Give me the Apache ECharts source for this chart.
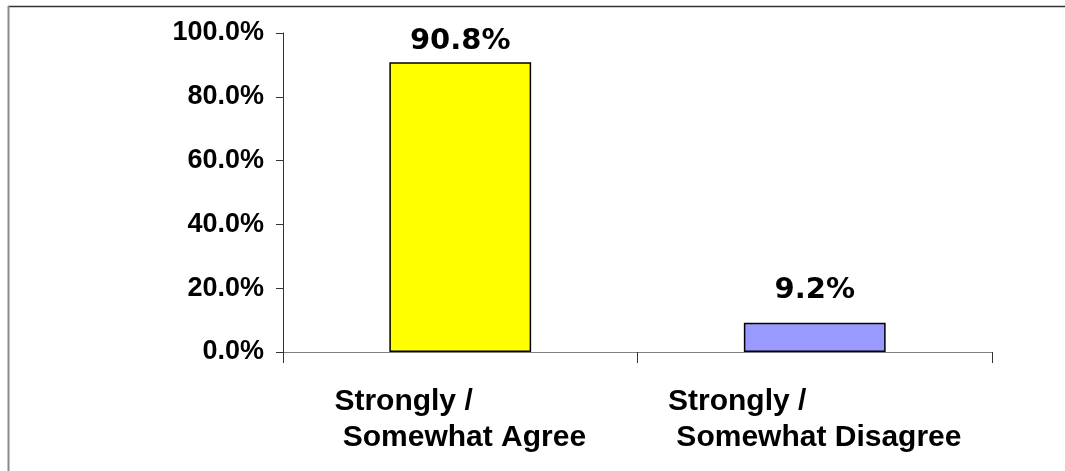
<!DOCTYPE html>
<html>
<head>
<meta charset="utf-8">
<script src="https://cdn.jsdelivr.net/npm/echarts@6/dist/echarts.min.js"></script>
<style>
  html, body { margin: 0; padding: 0; background: #fff; }
  #chart { width: 1065px; height: 471px; }
</style>
</head>
<body>
<div id="chart"></div>
<script>
// Survey response shares
const categories = ['Strongly /\n Somewhat Agree', 'Strongly /\n Somewhat Disagree'];
const shares = [90.8, 9.2];
const barColors = ['#FFFF00', '#9999FF'];
const labelGaps = [6, 18];
const yTicks = [0, 20, 40, 60, 80, 100];

const FONT = '"Liberation Sans", Arial, sans-serif';
const VALUE_FONT = '"DejaVu Sans", "Liberation Sans", Arial, sans-serif';

const chart = echarts.init(document.getElementById('chart'), null, { renderer: 'canvas' });

chart.setOption({
  backgroundColor: '#ffffff',
  animation: false,
  graphic: [
    { type: 'line', shape: { x1: 8, y1: 6.5, x2: 1065, y2: 6.5 }, style: { stroke: '#333333', lineWidth: 1.5 } },
    { type: 'line', shape: { x1: 8.5, y1: 6, x2: 8.5, y2: 471 }, style: { stroke: '#8a8a8a', lineWidth: 2 } }
  ],
  grid: { left: 283, right: 73, top: 33, bottom: 119, containLabel: false },
  xAxis: {
    type: 'category',
    data: categories,
    axisLine: { lineStyle: { color: '#808080', width: 1 } },
    axisTick: { show: true, length: 11, alignWithLabel: false, lineStyle: { color: '#333333' } },
    axisLabel: {
      margin: 32,
      interval: 0,
      formatter: function (v) {
        return v.split('\n').map(function (s) { return '{t|' + s + '}'; }).join('\n');
      },
      rich: {
        t: { align: 'left', fontFamily: FONT, fontWeight: 'bold', fontSize: 30, lineHeight: 36, color: '#000' }
      }
    }
  },
  yAxis: {
    type: 'value',
    min: 0,
    max: 100,
    interval: 20,
    splitLine: { show: false },
    axisLine: { show: true, lineStyle: { color: '#333333', width: 1 } },
    axisTick: { show: true, length: 7, lineStyle: { color: '#333333' } },
    axisLabel: {
      margin: 19,
      fontFamily: FONT,
      fontWeight: 'bold',
      fontSize: 27,
      color: '#000',
      formatter: function (v) { return v.toFixed(1) + '%'; },
      customValues: yTicks
    }
  },
  series: [{
    type: 'bar',
    barWidth: '40%',
    data: shares.map(function (v, i) {
      return {
        value: v,
        itemStyle: { color: barColors[i], borderColor: '#000', borderWidth: 1.5 },
        label: { distance: labelGaps[i] }
      };
    }),
    label: {
      show: true,
      position: 'top',
      fontFamily: VALUE_FONT,
      fontWeight: 'bold',
      fontSize: 29,
      color: '#000',
      formatter: function (p) { return p.value.toFixed(1) + '%'; }
    }
  }]
});
</script>
</body>
</html>
